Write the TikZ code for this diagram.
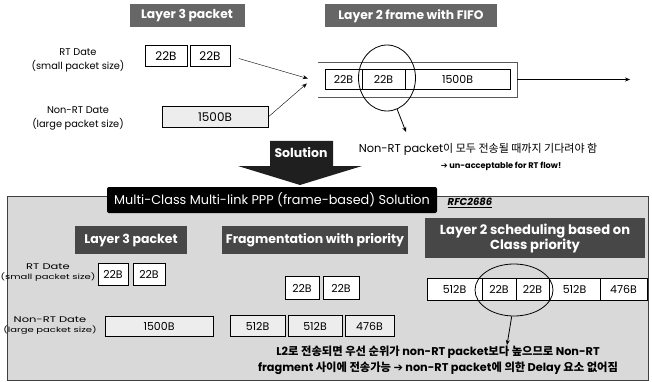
\documentclass[tikz,border=0pt]{standalone}
\usepackage{graphicx}
\usepackage{fontspec}
\setmainfont{Poppins}
\newfontfamily\kr{Noto Sans CJK KR}
\newfontfamily\sym{DejaVu Sans}
\usetikzlibrary{shapes.geometric,arrows.meta}

\newcommand{\squash}[1]{\scalebox{1}[0.72]{#1}}

\begin{document}
\begin{tikzpicture}[x=1pt, y=-1pt, >={Stealth[length=5pt, width=4pt]},
    hdr/.style={fill=black!60, text=white, font=\fontsize{12.3}{14}\selectfont\bfseries, inner sep=0pt, align=center},
    bhdr/.style={hdr, fill=black!72, font=\fontsize{12.5}{15}\selectfont\bfseries},
    pkt/.style={draw, fill=white, inner sep=0pt, minimum height=21, font=\fontsize{11}{13}\selectfont},
    bigpkt/.style={pkt, fill=gray!14},
    lbl/.style={align=center, font=\fontsize{9.8}{11}\selectfont, inner sep=0pt},
    note/.style={align=center, inner sep=0pt}]

  \useasboundingbox (0,0) rectangle (652,382);

  % FIFO case
  \node[hdr, minimum width=115, minimum height=23] (l3h) at (187,16) {Layer 3 packet};
  \node[hdr, minimum width=172, minimum height=23] (l2h) at (411,16) {Layer 2 frame with FIFO};
  \node[lbl] (rtl) at (78,60) {RT Date\\[3pt](small packet size)};
  \node[lbl] (nrtl) at (78,118) {Non-RT Date\\[3pt](large packet size)};
  \node[pkt, minimum width=42, font=\fontsize{12}{14}\selectfont] (rta) at (166,56) {22B};
  \node[pkt, minimum width=40, font=\fontsize{12}{14}\selectfont] (rtb) at (210,56) {22B};
  \node[bigpkt, minimum width=106, font=\fontsize{12}{14}\selectfont] (nrt) at (215,117) {1500B};

  \node[minimum width=199, minimum height=35, inner sep=0pt] (fifo) at (417.5,79.5) {};
  \draw[gray!70!black] (fifo.north west) -- (fifo.north east) -- (fifo.south east) -- (fifo.south west);
  \node[pkt, minimum width=37, minimum height=20] (fa) at (343.5,79.5) {22B};
  \node[pkt, minimum width=43, minimum height=20] (fb) at (383.5,79.5) {22B};
  \node[pkt, minimum width=105, minimum height=20] (fc) at (457.5,79.5) {1500B};

  \draw[->, shorten <=9pt] (rtb.east) -- ([xshift=-10pt, yshift=1pt]fifo.west);
  \draw[->, shorten <=1pt] (nrt.east) -- ([xshift=-11pt, yshift=-4pt]fifo.west);
  \coordinate (out) at (630,79.5);
  \draw[->] (fifo.east) -- (out);

  \node[ellipse, draw, thick, minimum width=57, minimum height=66, inner sep=0pt] (hit) at (387,78) {};
  \coordinate (hitend) at (406,132);
  \draw[->, thick] (hit.-72) -- (hitend);
  \node[note, font=\fontsize{11.4}{14}\selectfont] (warn1) at (478,149)
    {Non-RT packet{\kr\fontsize{11}{12}\selectfont 이 모두 전송될 때까지 기다려야 함}};
  \node[note, font=\fontsize{8.2}{9}\selectfont\bfseries] (warn2) at (501,166) {{\sym ➔} un-acceptable for RT flow!};

  % Solution arrow
  \fill[black!88] (270,141) -- (333,141) -- (333,166) -- (362,166) -- (300,185)
    -- (238,166) -- (270,166) -- cycle;
  \node[text=white, font=\fontsize{12.5}{14}\selectfont\bfseries] (sol) at (301,153) {Solution};

  % MCML PPP case
  \fill[gray!30] (7,196) rectangle (648,380);
  \draw[gray!50!black] (7,196) rectangle (648,380);
  \node[fill=black, text=white, rounded corners=2pt, minimum width=330, minimum height=26,
    inner sep=0pt, font=\fontsize{12.8}{15}\selectfont] (title) at (272,200) {Multi-Class Multi-link PPP (frame-based) Solution};
  \node[font=\fontsize{10}{12}\selectfont\bfseries\itshape, inner sep=0pt] (rfc) at (470,203) {\underline{RFC2686}};

  \node[bhdr, minimum width=112, minimum height=28] (b3h) at (131,240) {Layer 3 packet};
  \node[bhdr, minimum width=186, minimum height=28] (frh) at (315,240) {Fragmentation with priority};
  \node[bhdr, minimum width=220, minimum height=40, font=\fontsize{13.1}{15}\selectfont\bfseries] (sch) at (535,238)
    {Layer 2 scheduling based on\\Class priority};

  \node[lbl, font=\fontsize{11.5}{10}\selectfont] (brtl) at (48,273) {\squash{RT Date}\\\squash{\fontsize{10}{8}\selectfont(small packet size)}};
  \node[lbl, font=\fontsize{11.5}{10}\selectfont] (bnrtl) at (50,326) {\squash{Non-RT Date}\\\squash{\fontsize{10}{8}\selectfont(large packet size)}};

  \node[pkt, minimum width=30, minimum height=22] (ra) at (113,274) {22B};
  \node[pkt, minimum width=32, minimum height=22] (rb) at (149,274) {22B};
  \node[bigpkt, minimum width=108, minimum height=20] (nr) at (159,326) {1500B};

  \node[pkt, minimum width=34, minimum height=23] (ga) at (302,288) {22B};
  \node[pkt, minimum width=36, minimum height=23] (gb) at (341,288) {22B};
  \foreach \n/\x/\w/\t in {gc/257.5/55/512B, gd/315/54/512B, ge/369.5/49/476B} {
      \node[bigpkt, minimum width=\w, minimum height=21] (\n) at (\x,326) {\t};
    }

  \foreach \n/\x/\w/\t in {sa/454.5/55/512B, sb/499/34/22B, sc/532.5/33/22B, sd/574.5/51/512B, se/623.5/47/476B} {
      \node[pkt, minimum width=\w, minimum height=22] (\n) at (\x,289) {\t};
    }

  \node[ellipse, draw, thick, minimum width=78, minimum height=52, inner sep=0pt] (hit2) at (514,290) {};
  \coordinate (hit2end) at (507,345);
  \draw[->, thick] (hit2.-95) -- (hit2end);
  \node[note, font=\fontsize{11.3}{16}\selectfont\bfseries] (gain) at (438,360)
    {L2{\kr 로 전송되면 우선 순위가} non-RT packet{\kr 보다 높으므로} Non-RT\\
     fragment {\kr 사이에 전송가능} {\sym ➔} non-RT packet{\kr 에 의한} Delay {\kr 요소 없어짐}};
\end{tikzpicture}
\end{document}
